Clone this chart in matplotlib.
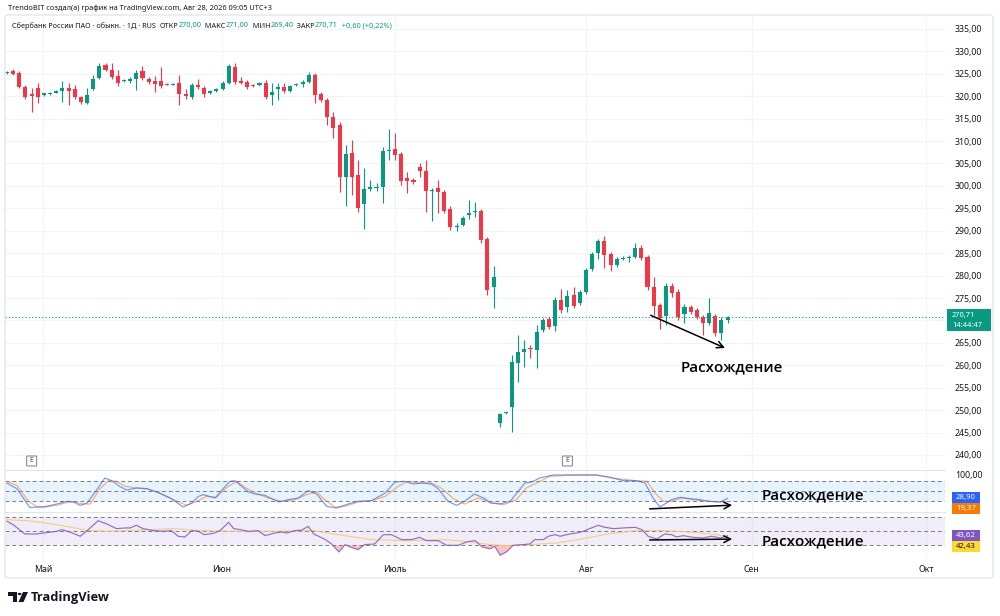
import numpy as np
import matplotlib
matplotlib.use('Agg')
import matplotlib.pyplot as plt
from matplotlib.patches import Rectangle, FancyBboxPatch, Polygon, Circle

W, H = 1000, 616

# ---- OHLC, daily bars ----
opens = [325.2, 325.6, 325.2, 322.1, 320.4, 321.8, 320.3, 320.4, 320.8, 321.2,
         321.8, 321.6, 319.8, 318.5, 321.6, 324.1, 327.0, 325.9, 324.5, 323.4,
         323.4, 323.9, 325.6, 323.9, 323.4, 323.4, 322.8, 322.6, 323.0, 320.5,
         319.8, 322.5, 321.8, 320.7, 321.2, 321.6, 323.0, 326.5, 323.4, 323.2,
         322.5, 322.5, 323.0, 320.3, 321.6, 322.1, 321.2, 322.4, 322.7, 323.2,
         324.7, 320.5, 319.2, 315.4, 313.6, 302.0, 307.3, 302.4, 296.0, 299.3,
         299.5, 299.8, 307.8, 308.2, 307.1, 301.8, 301.3, 304.2, 303.3, 298.9,
         299.6, 298.7, 294.9, 290.8, 291.3, 293.5, 294.2, 294.4, 288.2, 277.5,
         247.1, 249.4, 250.7, 260.5, 263.0, 263.9, 263.4, 267.9, 270.3, 268.8,
         274.6, 273.0, 275.7, 273.9, 276.4, 281.5, 285.0, 287.7, 284.8, 282.4,
         283.8, 283.9, 284.2, 286.2, 284.2, 277.5, 273.5, 271.0, 277.7, 276.4,
         271.4, 273.0, 272.3, 270.8, 269.4, 271.0, 267.2, 270.00]
highs = [325.7, 326.0, 325.6, 322.5, 321.8, 322.9, 320.8, 320.9, 321.4, 323.4,
         322.9, 322.5, 320.1, 321.8, 324.7, 327.3, 327.5, 327.4, 325.9, 323.9,
         324.3, 325.9, 326.7, 324.3, 324.5, 326.5, 323.0, 323.0, 324.7, 321.6,
         323.0, 323.9, 322.3, 321.4, 321.9, 323.3, 327.2, 327.4, 324.3, 323.6,
         322.8, 323.2, 323.6, 323.0, 323.0, 323.0, 322.6, 323.0, 323.6, 325.4,
         325.2, 321.0, 319.6, 316.5, 314.3, 309.1, 310.2, 305.8, 304.0, 301.3,
         300.7, 308.7, 312.7, 311.8, 307.6, 303.1, 301.8, 305.1, 305.8, 299.6,
         301.3, 299.1, 295.5, 291.7, 293.3, 296.9, 296.4, 294.9, 288.6, 282.1,
         249.4, 249.6, 262.3, 266.8, 265.6, 264.5, 269.0, 270.5, 270.8, 275.2,
         277.0, 276.8, 277.5, 276.8, 281.7, 285.3, 288.2, 288.8, 285.3, 284.1,
         284.4, 284.6, 287.3, 286.8, 284.6, 279.7, 273.9, 278.4, 278.4, 277.0,
         273.7, 273.5, 272.8, 271.2, 275.0, 271.4, 270.8, 271.00]
lows = [325.0, 324.8, 321.8, 319.4, 316.5, 318.5, 320.1, 320.2, 320.6, 318.7,
        318.1, 319.4, 318.3, 318.3, 321.4, 323.9, 325.6, 323.9, 322.3, 323.2,
        323.0, 321.4, 323.6, 322.7, 321.0, 321.8, 322.4, 322.4, 318.1, 319.4,
        319.4, 321.6, 319.8, 320.5, 321.0, 321.4, 322.7, 322.7, 322.7, 321.6,
        322.1, 322.3, 319.4, 318.1, 319.2, 320.7, 321.0, 322.2, 322.1, 322.9,
        318.5, 318.7, 313.6, 310.7, 298.6, 295.5, 298.0, 294.2, 290.4, 298.9,
        298.9, 296.2, 305.8, 305.8, 300.2, 298.4, 300.4, 302.0, 294.2, 292.2,
        294.0, 294.0, 290.2, 290.0, 291.0, 292.6, 293.1, 287.3, 275.7, 272.8,
        246.2, 249.2, 245.1, 256.3, 259.6, 261.6, 259.4, 267.4, 268.1, 267.7,
        271.7, 271.9, 272.8, 273.5, 276.0, 281.0, 283.7, 281.7, 281.0, 282.0,
        283.5, 283.0, 283.9, 283.5, 276.8, 271.2, 268.1, 269.0, 275.2, 270.1,
        269.4, 271.4, 270.3, 266.8, 269.0, 266.6, 265.6, 269.40]
closes = [325.4, 325.0, 322.1, 319.8, 320.1, 319.8, 320.6, 320.6, 321.2, 321.8,
          321.2, 319.8, 318.7, 320.3, 323.9, 326.7, 325.9, 324.3, 323.0, 323.6,
          323.8, 325.2, 324.1, 323.2, 322.7, 322.3, 322.6, 322.8, 320.5, 320.1,
          322.5, 322.1, 320.5, 321.2, 321.6, 323.0, 326.7, 323.2, 323.0, 322.1,
          322.3, 323.0, 319.8, 321.0, 322.0, 321.2, 322.3, 322.6, 323.2, 324.7,
          320.3, 319.2, 315.4, 312.9, 302.0, 307.1, 302.0, 295.1, 299.3, 299.7,
          299.8, 307.8, 308.1, 306.9, 301.1, 301.1, 300.9, 303.3, 298.9, 299.1,
          298.7, 294.4, 290.8, 291.1, 292.9, 294.0, 294.4, 288.0, 276.8, 279.7,
          249.1, 249.5, 260.7, 263.0, 263.6, 263.6, 267.4, 270.1, 268.5, 274.6,
          272.3, 275.5, 273.2, 276.4, 281.3, 284.8, 287.7, 284.6, 282.4, 283.7,
          284.0, 284.1, 286.2, 283.9, 277.5, 273.2, 270.6, 277.7, 276.1, 270.8,
          273.0, 271.9, 270.8, 269.4, 271.7, 267.2, 270.1, 270.71]

# ---- Stochastic %K / %D (bar index, value) ----
k_bar = [0, 1.6, 3.7, 5.9, 8.1, 9.7, 10.8, 11.9, 13.0, 14.6, 15.9, 17.0, 18.3, 19.4,
         21.1, 22.7, 24.3, 26.5, 28.6, 30.0, 31.1, 31.9, 33.8, 35.1, 36.2, 37.0, 38.1,
         39.2, 40.3, 41.9, 44.1, 45.7, 47.3, 48.9, 50.3, 51.9, 53.5, 55.4, 57.0, 59.2,
         61.4, 63.0, 64.6, 66.0, 67.3, 68.9, 70.0, 71.6, 73.0, 74.3, 75.9, 77.6, 78.5,
         80.0, 81.7, 83.0, 84.1, 85.2, 86.5, 88.7, 91.9, 95.7, 97.9, 100.1, 102.2,
         103.6, 104.9, 106.0, 106.8, 107.9, 109.3, 110.9, 112.5, 114.1, 115.8, 117]
k_val = [75, 58, 2, 3, 12, 20, 18, 8, 15, 55, 90, 82, 65, 54,
         60, 58, 48, 30, 3, 15, 35, 40, 30, 58, 80, 82, 65,
         48, 42, 38, 18, 25, 30, 52, 42, 5, 0, 12, 20, 22,
         45, 78, 80, 72, 75, 72, 58, 20, 8, 20, 42, 28, 15,
         12, 20, 50, 75, 78, 90, 99, 99, 99, 92, 82, 82,
         75, 30, 3, 12, 25, 32, 28, 25, 20, 18, 28.90]
d_bar = [0, 1.6, 3.5, 4.8, 6.2, 8.1, 9.7, 11.0, 12.4, 13.5, 15.1, 16.5, 17.8, 19.2,
         21.1, 22.7, 24.8, 27.0, 29.2, 30.8, 32.4, 34.0, 35.7, 37.3, 39.0, 40.3, 42.4,
         44.6, 46.8, 48.6, 50.3, 51.6, 53.3, 54.9, 57.0, 59.2, 61.4, 63.5, 65.1, 66.8,
         68.9, 70.5, 72.5, 74.3, 76.5, 78.5, 80.6, 82.7, 84.3, 86.0, 88.1, 91.9, 95.7,
         99.0, 102.2, 103.9, 105.2, 106.6, 107.9, 109.6, 111.4, 113.6, 115.8, 117]
d_val = [80, 68, 20, 5, 3, 8, 17, 18, 12, 12, 58, 82, 80, 65,
         60, 58, 45, 25, 8, 20, 35, 32, 62, 80, 58, 45, 30,
         20, 25, 40, 48, 25, 2, 5, 18, 22, 35, 65, 80, 75,
         75, 60, 28, 12, 30, 18, 10, 25, 60, 75, 95, 99, 99,
         88, 82, 80, 45, 20, 20, 30, 25, 20, 18, 19.37]

# ---- RSI and its MA ----
rsi_bar = [0, 1.0, 2.9, 4.8, 6.4, 8.1, 8.9, 10.2, 11.9, 13.2, 14.8, 16.2, 17.8, 19.2,
           20.0, 21.0, 22.1, 23.8, 25.4, 26.7, 27.8, 28.9, 30.0, 31.1, 32.0, 33.5,
           34.6, 36.0, 36.8, 37.9, 39.2, 40.8, 41.9, 43.5, 44.6, 45.4, 46.8, 47.9,
           48.9, 49.8, 50.6, 51.7, 52.7, 53.9, 54.9, 55.9, 57.0, 58.1, 59.7, 61.1,
           62.4, 64.1, 65.7, 67.0, 68.1, 70.0, 71.4, 73.3, 74.6, 76.0, 77.2, 78.4,
           79.2, 80.1, 81.2, 82.2, 83.8, 84.9, 85.7, 87.1, 87.9, 89.0, 89.8, 91.4,
           92.5, 93.6, 94.6, 96.0, 97.1, 98.5, 100.1, 102.0, 103.1, 104.1, 105.5,
           106.8, 107.9, 108.7, 109.8, 111.4, 113.0, 114.4, 115.8, 117]
rsi_val = [64.3, 59.5, 46.2, 46.2, 48.1, 50, 52.4, 49, 42.9, 52.4, 65.2, 60.5, 53.8, 54.8,
           54.8, 58.6, 53.8, 51, 50, 51, 42.9, 41.9, 51, 50, 45.2, 47.1,
           51, 62.9, 53.8, 52.4, 50, 51, 43.8, 47.6, 49, 47.6, 51, 51.9,
           57.1, 46.2, 42.9, 38.1, 31.9, 20.5, 31, 27.1, 23.8, 31, 31.9, 45.2,
           45.2, 38.1, 38.1, 41.4, 36.7, 36.7, 30, 30, 34.8, 36.7, 27.5, 25.0,
           28.5, 15.7, 21.4, 30, 31, 31.9, 38.1, 38.1, 42.9, 45.2, 42.9, 46.2,
           47.6, 50, 53.8, 58.6, 55.7, 53.8, 54.8, 55.7, 52.4, 42.9, 39,
           46.2, 45.2, 41.9, 43.8, 41.4, 40.5, 42.9, 40.5, 43.62]
ma_bar = [0, 3.2, 6.4, 9.7, 12.9, 16.2, 23.2, 27, 31.3, 36.8, 39.2, 49.7, 53.8, 59.2,
          64.6, 71, 75, 78.5, 81.1, 84.9, 89.2, 93.6, 97.9, 102.2, 106.6, 110.9, 115.2, 117]
ma_val = [66.7, 65.2, 61.9, 57.1, 51.4, 50, 52.4, 53.8, 51, 50, 49.5, 51, 45.2, 38.1,
          36.7, 38.1, 35, 31, 29.5, 31, 33.3, 39.5, 46.7, 51, 51, 49, 45.2, 42.43]

# ---- time axis / events ----
month_pos = [5.84, 34.9, 63.0, 94.0, 120.9, 149.2]
month_names = ['Май', 'Июн', 'Июль', 'Авг', 'Сен', 'Окт']
event_bars = [4, 91]

price_ticks = np.arange(240, 336, 5)

GREEN = '#089981'
RED = '#F23645'
TXT = '#131722'
GRID = '#F0F3FA'
LINE = '#787B86'

plt.rcParams['font.family'] = ['Noto Sans', 'DejaVu Sans']

fig = plt.figure(figsize=(W / 100, H / 100), dpi=100, facecolor='white')


def rect(x0, y0, x1, y1):
    return [x0 / W, 1 - y1 / H, (x1 - x0) / W, (y1 - y0) / H]


def fpx(x, y):
    return x / W, 1 - y / H


def fmt(v):
    return f'{v:.2f}'.replace('.', ',')


ax = fig.add_axes(rect(5, 15, 945, 468))
ax_st = fig.add_axes(rect(5, 471, 945, 512))
ax_rsi = fig.add_axes(rect(5, 512, 945, 560))

xlim = (-0.32, 152.3)
for a in (ax, ax_st, ax_rsi):
    a.set_xlim(*xlim)
    a.set_facecolor('none')
    for s in a.spines.values():
        s.set_visible(False)
    a.tick_params(length=0)
    for m in month_pos:
        a.axvline(m, color=GRID, lw=0.8, zorder=0)
    a.set_xticks([])

# ---- main pane: candles ----
o = np.array(opens); h = np.array(highs); l = np.array(lows); c = np.array(closes)
x = np.arange(len(o))
up = c >= o
cols = np.where(up, GREEN, RED)
ax.vlines(x, l, h, colors=cols, lw=0.8, zorder=3)
body = np.maximum(np.abs(c - o), 0.22)
ax.bar(x, body, bottom=np.minimum(o, c), width=0.66, color=cols, lw=0, zorder=4)

ax.set_ylim(237.1, 338.1)
for p in price_ticks:
    ax.axhline(p, color=GRID, lw=0.8, zorder=0)
# the 270 label sits under the last-price box, so it is left out
shown_ticks = [p for p in price_ticks if abs(p - c[-1]) > 2.5]
ax.yaxis.tick_right()
ax.set_yticks(shown_ticks)
ax.set_yticklabels([fmt(p) for p in shown_ticks], fontsize=6.3, color=TXT)
ax.tick_params(axis='y', pad=7)
ax.axhline(c[-1], color=GREEN, lw=0.8, ls=(0, (1, 2)), zorder=2)

# event markers
for eb in event_bars:
    ex = ax.transData.transform((eb, 0))[0]
    fig.patches.append(FancyBboxPatch(fpx(ex - 5, 466), 10 / W, 10 / H,
                                      boxstyle='round,pad=0,rounding_size=0.001',
                                      transform=fig.transFigure, fc='white',
                                      ec='#8C8F99', lw=0.8))
    fig.text(*fpx(ex, 461), 'E', fontsize=5, color='#50535E', ha='center', va='center')

# divergence on price
ax.annotate('', xy=(117.0, 263.6), xytext=(104.1, 271.4),
            arrowprops=dict(arrowstyle='->', color='black', lw=1.1, mutation_scale=12))
ax.text(109.4, 259.6, 'Расхождение', fontsize=10.9, fontweight='semibold',
        family=['Open Sans', 'DejaVu Sans'], color='black', va='center', ha='left')

# ---- stochastic pane ----
ax_st.set_ylim(-12, 111)
ax_st.axhspan(20, 80, color='#2196F3', alpha=0.1, lw=0, zorder=0)
for lv in (80, 50, 20):
    ax_st.axhline(lv, color=LINE, lw=0.7, ls=(0, (4, 3)), zorder=1)
ax_st.plot(d_bar, d_val, color='#FF6D00', lw=0.85, alpha=0.55, zorder=2)
ax_st.plot(k_bar, k_val, color='#2962FF', lw=0.85, alpha=0.65, zorder=3)
ax_st.yaxis.tick_right()
ax_st.set_yticks([100])
ax_st.set_yticklabels(['100,00'], fontsize=6.3, color=TXT)
ax_st.tick_params(axis='y', pad=7)
ax_st.annotate('', xy=(118.2, 8.9), xytext=(103.9, -3),
               arrowprops=dict(arrowstyle='->', color='black', lw=1.1, mutation_scale=12),
               annotation_clip=False)
ax_st.text(122.6, 38.9, 'Расхождение', fontsize=11, fontweight='semibold',
           family=['Open Sans', 'DejaVu Sans'], color='black', va='center', ha='left',
           clip_on=False)

# ---- RSI pane ----
ax_rsi.set_ylim(9, 77.6)
ax_rsi.axhspan(30, 70, color='#7E57C2', alpha=0.1, lw=0, zorder=0)
for lv in (70, 50, 30):
    ax_rsi.axhline(lv, color=LINE, lw=0.7, ls=(0, (4, 3)), zorder=1)
rb = np.array(rsi_bar); rv = np.array(rsi_val)
ax_rsi.fill_between(rb, rv, 30, where=rv < 30, interpolate=True,
                    color=RED, alpha=0.3, lw=0, zorder=1)
ax_rsi.plot(ma_bar, ma_val, color='#F5C66B', lw=0.85, alpha=0.8, zorder=2)
ax_rsi.plot(rb, rv, color='#7E57C2', lw=0.85, alpha=0.85, zorder=3)
ax_rsi.set_yticks([])
ax_rsi.set_xticks(month_pos)
ax_rsi.set_xticklabels(month_names, fontsize=6.3, color=TXT)
ax_rsi.tick_params(axis='x', pad=3.5)
ax_rsi.annotate('', xy=(118.2, 38.9), xytext=(103.9, 37.6),
                arrowprops=dict(arrowstyle='->', color='black', lw=1.1, mutation_scale=12),
                annotation_clip=False)
ax_rsi.text(122.6, 36.1, 'Расхождение', fontsize=11, fontweight='semibold',
            family=['Open Sans', 'DejaVu Sans'], color='black', va='center', ha='left',
            clip_on=False)


# ---- last-value labels on the scales ----
def value_box(a, val, text, fc, tc, y_shift=0, x0=952, x1=980, hgt=11):
    ypix = H - a.transData.transform((0, val))[1] + y_shift
    fig.patches.append(Rectangle(fpx(x0, ypix + hgt / 2), (x1 - x0) / W, hgt / H,
                                 transform=fig.transFigure, fc=fc, ec='none'))
    fig.text(*fpx((x0 + x1) / 2, ypix), text, fontsize=5.6, color=tc,
             ha='center', va='center')


ypx = H - ax.transData.transform((0, c[-1]))[1]
fig.patches.append(Rectangle(fpx(947, ypx + 14), 44 / W, 22 / H,
                             transform=fig.transFigure, fc=GREEN, ec='none'))
fig.text(*fpx(952, ypx - 1.5), fmt(c[-1]), fontsize=5.4, color='white', va='center')
fig.text(*fpx(952, ypx + 8.5), '14:44:47', fontsize=5.4, color='white', va='center')

value_box(ax_st, k_val[-1], fmt(k_val[-1]), '#2962FF', 'white', y_shift=-0.5)
value_box(ax_st, k_val[-1], fmt(d_val[-1]), '#F57C00', 'white', y_shift=10.5)
value_box(ax_rsi, rsi_val[-1], fmt(rsi_val[-1]), '#7E57C2', 'white')
value_box(ax_rsi, rsi_val[-1], fmt(ma_val[-1]), '#FDD835', TXT, y_shift=11)

# ---- frame and separators ----
fig.patches.append(FancyBboxPatch(fpx(5, 578), 988 / W, 563 / H,
                                  boxstyle='round,pad=0,rounding_size=0.004',
                                  transform=fig.transFigure, fc='none',
                                  ec='#E0E3EB', lw=0.9))
for yy in (470, 512):
    fig.add_artist(plt.Line2D([5 / W, 945 / W], [1 - yy / H] * 2, color='#E0E3EB', lw=0.8))

# ---- header ----
fig.text(*fpx(8, 8), 'TrendoBIT создал(а) график на TradingView.com, Авг 28, 2026 09:05 UTC+3',
         fontsize=5.3, color=TXT, va='center')

pieces = [('Сбербанк России ПАО · обыкн. · 1Д · RUS  ', TXT), ('ОТКР', TXT), ('270,00', GREEN),
          ('  МАКС', TXT), ('271,00', GREEN), ('  МИН', TXT), ('269,40', GREEN),
          ('  ЗАКР', TXT), ('270,71', GREEN), ('  +0,60 (+0,22%)', GREEN)]
renderer = fig.canvas.get_renderer()
xp = 12
for txt, col in pieces:
    t = fig.text(*fpx(xp, 26), txt, fontsize=5.25, color=col, va='center')
    xp += t.get_window_extent(renderer).width

# ---- TradingView logo ----
fig.patches.append(Polygon([fpx(8, 592), fpx(17, 592), fpx(17, 602), fpx(13, 602),
                            fpx(13, 596), fpx(8, 596)], closed=True,
                           transform=fig.transFigure, fc=TXT, ec='none'))
fig.patches.append(Circle(fpx(19.6, 594), 1.9 / W, transform=fig.transFigure, fc=TXT, ec='none'))
fig.patches.append(Polygon([fpx(23, 592), fpx(28, 592), fpx(23.5, 602), fpx(18.5, 602)],
                           closed=True, transform=fig.transFigure, fc=TXT, ec='none'))
fig.text(*fpx(31, 597), 'TradingView', fontsize=9.3, fontweight='bold', color=TXT,
         va='center', family=['Open Sans', 'DejaVu Sans'])

fig.savefig('out.png', dpi=100, facecolor='white')
